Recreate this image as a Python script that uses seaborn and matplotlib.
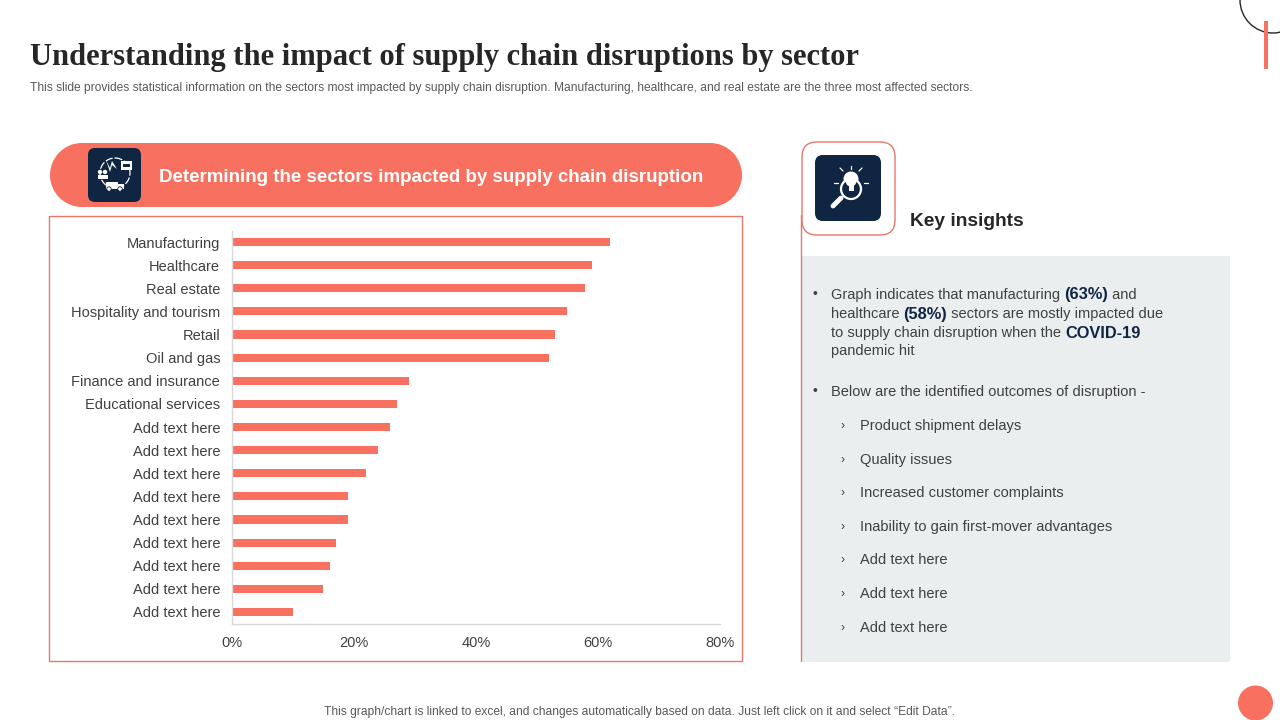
import matplotlib
matplotlib.use("Agg")
import matplotlib.pyplot as plt
from matplotlib.patches import FancyBboxPatch, Circle, Rectangle, Polygon
from matplotlib.transforms import ScaledTranslation
import pandas as pd
import seaborn as sns

sectors = [
    "Manufacturing", "Healthcare", "Real estate", "Hospitality and tourism",
    "Retail", "Oil and gas", "Finance and insurance", "Educational services",
    "Add text here", "Add text here", "Add text here", "Add text here",
    "Add text here", "Add text here", "Add text here", "Add text here", "Add text here",
]
impact = [62, 59, 58, 55, 53, 52, 29, 27, 26, 24, 22, 19, 19, 17, 16, 15, 10]
x_ticks = [0, 20, 40, 60, 80]

title = "Understanding the impact of supply chain disruptions by sector"
subtitle = ("This slide provides statistical information on the sectors most impacted by supply chain "
            "disruption. Manufacturing, healthcare, and real estate are the three most affected sectors.")
header = "Determining the sectors impacted by supply chain disruption"
footer = "This graph/chart is linked to excel, and changes automatically based on data. Just left click on it and select \u201cEdit Data\u201d."
outcomes = [
    "Product shipment delays", "Quality issues", "Increased customer complaints",
    "Inability to gain first-mover advantages", "Add text here", "Add text here", "Add text here",
]
outcome_y = [425, 459, 492, 526, 559, 593, 627]

CORAL = "#F87060"
NAVY = "#102542"
EDGE = "#E4796B"
GREY = "#404040"

sns.set_theme(style="white")
plt.rcParams["font.family"] = ["Liberation Sans", "DejaVu Sans"]

W, H = 1280, 720
fig = plt.figure(figsize=(12.8, 7.2), dpi=100, facecolor="white")

# overlay in pixel coordinates for the slide furniture
bg = fig.add_axes([0, 0, 1, 1], zorder=0)
bg.set_xlim(0, W)
bg.set_ylim(H, 0)
bg.axis("off")


def rounded(x0, y0, x1, y1, r, **kw):
    bg.add_patch(FancyBboxPatch((x0 + r, y0 + r), x1 - x0 - 2 * r, y1 - y0 - 2 * r,
                                boxstyle=f"round,pad={r},rounding_size={r}", **kw))


def runs(x, y, parts, size=10.5):
    # text pieces on one line, some of them bold navy
    rend = fig.canvas.get_renderer()
    for txt, bold in parts:
        t = bg.text(x, y, txt, fontsize=11.8 if bold else size, va="center", ha="left",
                    color=NAVY if bold else GREY, fontweight="bold" if bold else "normal")
        x += t.get_window_extent(rend).width


bg.text(30, 57, title, fontsize=22, family=["Liberation Serif"], fontweight="bold",
        color="#262626", va="center")
bg.text(30, 88, subtitle, fontsize=8.63, color="#595959", va="center")

# header pill, true half circles at both ends
bg.add_patch(Rectangle((82, 143), 628, 64, fc=CORAL, ec="none"))
bg.add_patch(Circle((82, 175), 32, fc=CORAL, ec="none"))
bg.add_patch(Circle((710, 175), 32, fc=CORAL, ec="none"))
bg.text(159, 177.5, header, fontsize=13.5, fontweight="bold", color="white", va="center")
rounded(88, 148, 141, 202, 7, fc=NAVY, ec="none")
bg.add_patch(Circle((115, 173), 15, fc="none", ec="white", lw=0.9, ls=(0, (6, 1.5))))
bg.add_patch(Rectangle((121, 161), 11, 9, fc="white", ec="none"))
bg.add_patch(Rectangle((123, 164), 7, 3, fc=NAVY, ec="none"))
bg.add_patch(Polygon([(106, 160), (110, 168), (112, 161), (117, 169), (112, 165), (110, 172)], fc="white", ec="none"))
for px, py in [(100, 172), (105, 172)]:
    bg.add_patch(Circle((px, py), 2.2, fc="white", ec="none"))
    bg.add_patch(Rectangle((px - 2.5, py + 2.5), 5, 4.5, fc="white", ec="none"))
bg.add_patch(Rectangle((106, 182), 12, 7, fc="white", ec="none"))
bg.add_patch(Rectangle((118, 184), 6, 5, fc="white", ec="none"))
for px in (109, 120):
    bg.add_patch(Circle((px, 189), 2.2, fc="white", ec=NAVY, lw=0.6))

# chart frame
bg.add_patch(Rectangle((49, 216), 693, 445, fc="white", ec=EDGE, lw=1))

# key insights panel
bg.add_patch(Rectangle((802, 256), 428, 406, fc="#EAEEEF", ec="none"))
bg.plot([801, 801], [215, 661], color=EDGE, lw=1)
rounded(802, 142, 895, 235, 15, fc="white", ec=EDGE, lw=1)
rounded(815, 155, 881, 221, 8, fc=NAVY, ec="none")
bg.add_patch(Circle((851, 179), 7.5, fc="white", ec="none"))
bg.add_patch(Circle((851, 189), 10, fc=NAVY, ec="white", lw=1.6))
bg.add_patch(Circle((851, 181), 5.5, fc="white", ec="none"))
bg.add_patch(Rectangle((848.5, 185), 5, 6, fc="white", ec="none"))
bg.plot([841, 833], [198, 206], color="white", lw=3.5, solid_capstyle="round")
for x0, y0, x1, y1 in [(851, 169, 851, 166), (843, 171, 840, 168), (859, 171, 862, 168),
                       (838, 183, 834, 183), (864, 183, 868, 183)]:
    bg.plot([x0, x1], [y0, y1], color="white", lw=0.9)
bg.text(910, 221, "Key insights", fontsize=13.75, fontweight="bold", color="#262626", va="center")

# top-right and bottom-right furniture
bg.add_patch(Circle((1273, 0), 33, fc="none", ec="#262626", lw=1))
bg.add_patch(Rectangle((1264, 21), 4, 48, fc=CORAL, ec="none"))
bg.add_patch(Circle((1255.5, 703), 17.5, fc=CORAL, ec="none"))
bg.text(639.5, 712, footer, fontsize=8.63, color="#595959", va="center", ha="center")

# insight text
bg.text(815, 294, "\u2022", fontsize=10, color=GREY, va="center", ha="center")
bg.text(815, 391, "\u2022", fontsize=10, color=GREY, va="center", ha="center")
runs(831, 295, [("Graph indicates that manufacturing ", False), ("(63%)", True), (" and", False)])
runs(831, 314, [("healthcare ", False), ("(58%)", True), (" sectors are mostly impacted due", False)])
runs(831, 333, [("to supply chain disruption when the ", False), ("COVID-19", True)])
runs(831, 351, [("pandemic hit", False)])
runs(831, 392, [("Below are the identified outcomes of disruption -", False)])
for label, yy in zip(outcomes, outcome_y):
    bg.text(843, yy + 1, "\u203a", fontsize=9, color=GREY, va="center", ha="center")
    bg.text(860, yy + 1, label, fontsize=10.55, color=GREY, va="center")

# the chart itself
ax = fig.add_axes([232 / W, 1 - 623.5 / H, 487.5 / W, 393 / H], zorder=1)
ax.patch.set_alpha(0)
df = pd.DataFrame({"row": [str(i) for i in range(len(sectors))], "impact": impact})
sns.barplot(data=df, x="impact", y="row", color=CORAL, saturation=1, width=0.35, linewidth=0, ax=ax)
ax.set_xlim(0, 80)
ax.set_xticks(x_ticks)
ax.set_xticklabels([f"{v}%" for v in x_ticks])
ax.set_yticks(range(len(sectors)))
ax.set_yticklabels(sectors)
ax.set_xlabel("")
ax.set_ylabel("")
ax.tick_params(axis="both", length=0, labelsize=10.55, labelcolor=GREY)
ax.tick_params(axis="y", pad=8.5)
ax.tick_params(axis="x", pad=9.3)
sns.despine(ax=ax)
for side in ("left", "bottom"):
    ax.spines[side].set_color("#D9D9D9")
    ax.spines[side].set_linewidth(1)

fig.savefig("out.png", dpi=100)
